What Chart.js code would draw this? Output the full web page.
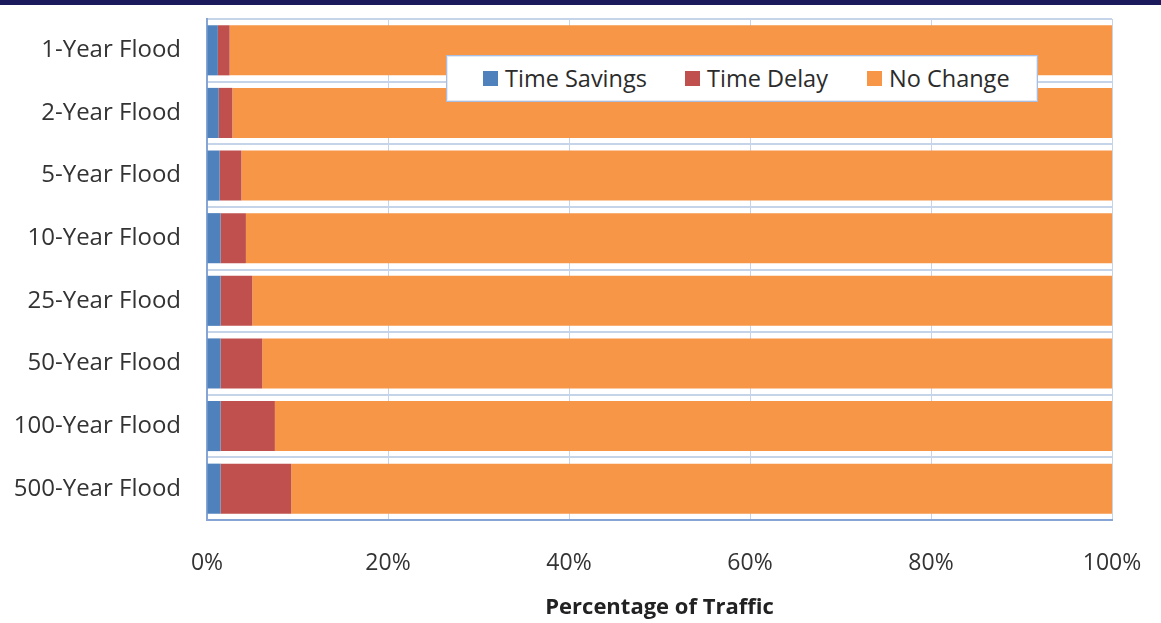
<!DOCTYPE html>
<html>
<head>
<meta charset="utf-8">
<script src="https://cdn.jsdelivr.net/npm/chart.js@4.4.1/dist/chart.umd.min.js"></script>
<style>
  html, body { margin: 0; padding: 0; background: #fff; }
  #wrap { position: relative; width: 1161px; height: 623px; overflow: hidden; }
  #c { position: absolute; left: 0; top: 0; }
  #band { position: absolute; left: 0; top: 0; width: 1161px; height: 5px; background: #1b1a5c; }
  #legend { position: absolute; left: 446px; top: 55px; width: 590px; height: 45px;
    background: #fff; border: 1px solid #a8bde0; box-shadow: inset 0 0 0 1px #e3eaf5;
    font-family: "Open Sans", sans-serif; font-size: 23.5px; color: #2b2b2b; }
  #legend .item { position: absolute; top: 0; height: 45px; line-height: 45px; white-space: nowrap; }
  #legend .sw { display: inline-block; width: 15px; height: 15px; vertical-align: middle; margin-right: 7px; position: relative; top: -2px; }
</style>
</head>
<body>
<div id="wrap">
  <canvas id="c" width="1161" height="623"></canvas>
  <div id="band"></div>
  <div id="legend"></div>
</div>
<script>
const categories = ['1-Year Flood', '2-Year Flood', '5-Year Flood', '10-Year Flood', '25-Year Flood', '50-Year Flood', '100-Year Flood', '500-Year Flood'];
const timeSavings = [1.2, 1.3, 1.4, 1.5, 1.5, 1.5, 1.5, 1.5];
const timeDelay = [1.3, 1.5, 2.4, 2.8, 3.5, 4.6, 6.0, 7.8];
const noChange = [97.5, 97.2, 96.2, 95.7, 95.0, 93.9, 92.5, 90.7];
const seriesNames = ['Time Savings', 'Time Delay', 'No Change'];
const seriesColors = ['#4f81bd', '#c0504d', '#f79646'];
const xTickValues = [0, 20, 40, 60, 80, 100];

const seriesData = [timeSavings, timeDelay, noChange];
const datasets = seriesNames.map((name, i) => ({
  label: name,
  data: seriesData[i],
  backgroundColor: seriesColors[i],
  borderWidth: 0,
  barPercentage: 0.8,
  categoryPercentage: 1.0
}));

const chart = new Chart(document.getElementById('c'), {
  type: 'bar',
  data: { labels: categories, datasets },
  options: {
    indexAxis: 'y',
    responsive: false,
    animation: false,
    layout: { padding: { left: 0, top: 19, right: 49, bottom: 0 } },
    plugins: { legend: { display: false }, tooltip: { enabled: false } },
    scales: {
      x: {
        stacked: true, min: 0, max: 100,
        afterBuildTicks: s => { s.ticks = xTickValues.map(v => ({ value: v })); },
        afterFit: s => { s.height = 103; s.paddingLeft = 0; s.paddingRight = 0; s.paddingTop = 0; s.paddingBottom = 0; },
        grid: { color: '#c6d4ea', lineWidth: 1, drawTicks: false },
        border: { color: '#86a5d4', width: 2 },
        ticks: {
          padding: 30,
          color: '#333',
          font: { family: 'Open Sans', size: 23 },
          maxRotation: 0,
          callback: v => v + '%'
        },
        title: {
          display: true, text: 'Percentage of Traffic', color: '#222',
          font: { family: 'Open Sans', size: 22, weight: 'bold' },
          padding: { top: 0, bottom: 2 }
        }
      },
      y: {
        stacked: true,
        afterFit: s => { s.width = 207; s.paddingTop = 0; s.paddingBottom = 0; s.paddingLeft = 0; s.paddingRight = 0; },
        grid: { color: '#c6d4ea', lineWidth: 2, drawTicks: false, offset: true },
        border: { color: '#86a5d4', width: 2 },
        ticks: {
          padding: 26,
          color: '#333',
          font: { family: 'Open Sans', size: 24 }
        }
      }
    }
  }
});

// HTML legend built from the chart's datasets
const legend = document.getElementById('legend');
const positions = [36, 238, 420];
chart.data.datasets.forEach((ds, i) => {
  const it = document.createElement('div');
  it.className = 'item';
  it.style.left = positions[i] + 'px';
  const sw = document.createElement('span');
  sw.className = 'sw';
  sw.style.background = ds.backgroundColor;
  it.appendChild(sw);
  it.appendChild(document.createTextNode(ds.label));
  legend.appendChild(it);
});
</script>
</body>
</html>
